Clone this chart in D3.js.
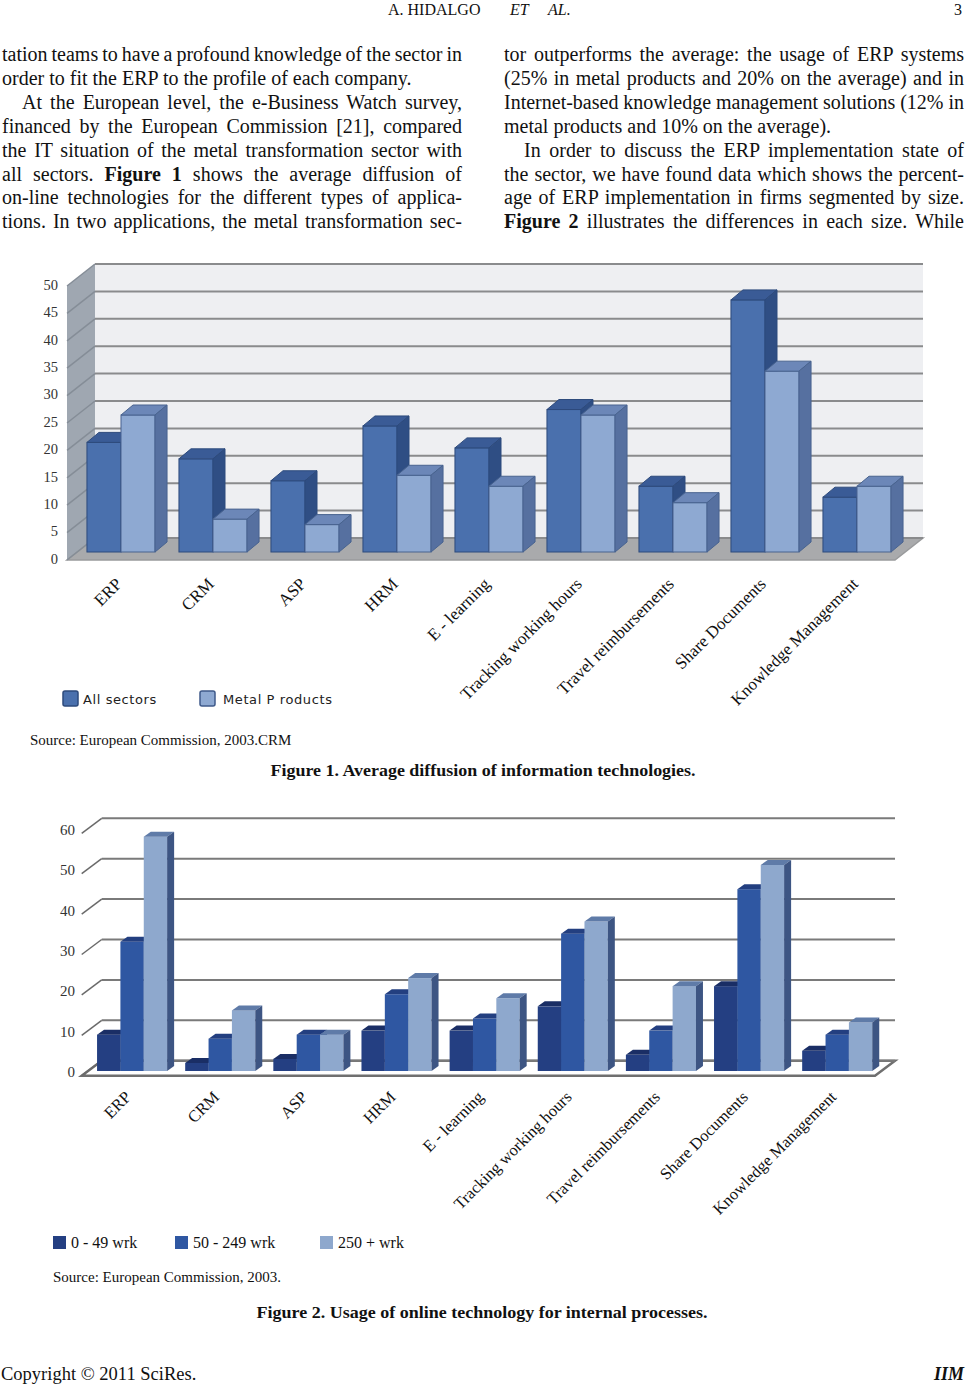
<!DOCTYPE html>
<html lang="en">
<head>
  <meta charset="UTF-8">
  <title>Average diffusion of information technologies</title>
  <script src="https://d3js.org/d3.v7.min.js"></script>
  <style>
    body { margin: 0; background: #fff; }
    svg { display: block; }
    .serif { font-family: "Liberation Serif", "Times New Roman", serif; fill: #111; }
  </style>
</head>
<body>
  <div id="page"></div>
  <script>
    // page text
    const headerAuthor = "A. HIDALGO";
    const pageNumber = "3";
    const leftLines = [
      "tation teams to have a profound knowledge of the sector in",
      "order to fit the ERP to the profile of each company.",
      "At the European level, the e-Business Watch survey,",
      "financed by the European Commission [21], compared",
      "the IT situation of the metal transformation sector with",
      "all sectors. **Figure 1** shows the average diffusion of",
      "on-line technologies for the different types of applica-",
      "tions. In two applications, the metal transformation sec-"
    ];
    const rightLines = [
      "tor outperforms the average: the usage of ERP systems",
      "(25% in metal products and 20% on the average) and in",
      "Internet-based knowledge management solutions (12% in",
      "metal products and 10% on the average).",
      "In order to discuss the ERP implementation state of",
      "the sector, we have found data which shows the percent-",
      "age of ERP implementation in firms segmented by size.",
      "**Figure 2** illustrates the differences in each size. While"
    ];
    const leftIndent = [false, false, true, false, false, false, false, false];
    const leftJustify = [true, false, true, true, true, true, true, true];
    const rightIndent = [false, false, false, false, true, false, false, false];
    const rightJustify = [true, true, true, false, true, true, true, true];

    // chart data
    const categories = ["ERP", "CRM", "ASP", "HRM", "E - learning", "Tracking working hours",
      "Travel reimbursements", "Share Documents", "Knowledge Management"];

    const fig1Series = ["All sectors", "Metal P roducts"];
    const fig1AllSectors = [20, 17, 13, 23, 19, 26, 12, 46, 10];
    const fig1MetalProducts = [25, 6, 5, 14, 12, 25, 9, 33, 12];
    const fig1Ticks = [0, 5, 10, 15, 20, 25, 30, 35, 40, 45, 50];

    const fig2Series = ["0 - 49 wrk", "50 - 249 wrk", "250 + wrk"];
    const fig2Small = [9, 2, 3, 10, 10, 16, 4, 21, 5];
    const fig2Medium = [32, 8, 9, 19, 13, 34, 10, 45, 9];
    const fig2Large = [58, 15, 9, 23, 18, 37, 21, 51, 12];
    const fig2Ticks = [0, 10, 20, 30, 40, 50, 60];

    const svg = d3.select("#page").append("svg").attr("width", 967).attr("height", 1386);

    // ---- header ----
    const head = svg.append("text").attr("class", "serif").attr("y", 15).style("font-size", "16px");
    head.append("tspan").attr("x", 388).text(headerAuthor);
    head.append("tspan").attr("x", 510).style("font-style", "italic").text("ET");
    head.append("tspan").attr("x", 548).style("font-style", "italic").text("AL.");
    svg.append("text").attr("class", "serif").attr("x", 962).attr("y", 15)
      .attr("text-anchor", "end").style("font-size", "16px").text(pageNumber);

    // ---- two columns of body text, justified with word-spacing ----
    function column(lines, indent, justify, x0, x1) {
      lines.forEach((line, i) => {
        const x = x0 + (indent[i] ? 20 : 0);
        const t = svg.append("text").attr("class", "serif")
          .attr("x", x).attr("y", 61 + i * 23.9)
          .style("font-size", "20px");
        line.split("**").forEach((part, k) => {
          if (!part) return;
          t.append("tspan").style("font-weight", k % 2 ? "bold" : "normal").text(part);
        });
        if (justify[i]) {
          const natural = t.node().getComputedTextLength();
          const spaces = (line.match(/ /g) || []).length;
          if (spaces) t.attr("word-spacing", (x1 - x - natural) / spaces);
        }
      });
    }
    column(leftLines, leftIndent, leftJustify, 2, 462);
    column(rightLines, rightIndent, rightJustify, 504, 964);

    // ---- generic 3D clustered column chart ----
    function chart3d(o) {
      const g = svg.append("g");
      const [fdx, fdy] = o.front;
      const yBack = d3.scaleLinear().domain([0, o.max]).range([o.backBottom, o.backTop]);
      const yBar = d3.scaleLinear().domain([0, o.max])
        .range([o.barBase, o.barBase - (o.backBottom - o.backTop)]);
      const x = d3.scaleBand().domain(categories)
        .range([o.backLeft + o.barShift, o.backRight + o.barShift])
        .paddingInner(o.padIn).paddingOuter(o.padOut);
      const xs = d3.scaleBand().domain(d3.range(o.series.length)).range([0, x.bandwidth()]);

      if (o.wallFill) {
        g.append("rect").attr("x", o.backLeft).attr("y", o.backTop)
          .attr("width", o.backRight - o.backLeft).attr("height", o.backBottom - o.backTop)
          .attr("fill", o.wallFill);
        g.append("path").attr("fill", o.sideFill)
          .attr("d", d3.line()([[o.backLeft + fdx, o.backTop + fdy], [o.backLeft, o.backTop],
            [o.backLeft, o.backBottom], [o.backLeft + fdx, o.backBottom + fdy]]) + "Z");
      }
      // floor
      g.append("path").attr("fill", o.floorFill).attr("stroke", o.floorStroke)
        .attr("stroke-width", o.floorStrokeW)
        .attr("d", d3.line()([[o.backLeft, o.backBottom], [o.backRight, o.backBottom],
          [o.backRight + fdx, o.backBottom + fdy], [o.backLeft + fdx, o.backBottom + fdy]]) + "Z");

      // gridlines on back wall and side wall
      g.selectAll(".grid").data(o.ticks).join("line")
        .attr("x1", o.backLeft).attr("x2", o.backRight)
        .attr("y1", d => yBack(d)).attr("y2", d => yBack(d))
        .attr("stroke", o.gridColor).attr("stroke-width", 2);
      g.selectAll(".diag").data(o.ticks).join("line")
        .attr("x1", o.backLeft + fdx).attr("y1", d => yBack(d) + fdy)
        .attr("x2", o.backLeft).attr("y2", d => yBack(d))
        .attr("stroke", o.diagColor).attr("stroke-width", 1.5);
      g.selectAll(".ylab").data(o.ticks).join("text")
        .attr("class", "serif")
        .attr("x", o.labelX).attr("y", d => yBack(d) + o.labelDy)
        .attr("text-anchor", "end").attr("dominant-baseline", "middle")
        .style("font-size", o.tickSize).style("fill", "#333")
        .text(d => d);

      // bars, drawn left to right so later faces overlap earlier sides
      const [bdx, bdy] = o.barDepth;
      categories.forEach((c, i) => {
        o.values.forEach((vals, j) => {
          const x0 = x(c) + xs(j), w = xs.bandwidth();
          const yt = yBar(vals[i]), yb = o.barBase;
          const col = o.colors[j];
          g.append("rect").attr("x", x0).attr("y", yt).attr("width", w).attr("height", yb - yt)
            .attr("fill", col.front).attr("stroke", col.line).attr("stroke-width", o.barStrokeW);
          g.append("path").attr("fill", col.top).attr("stroke", col.line).attr("stroke-width", o.barStrokeW)
            .attr("d", d3.line()([[x0, yt], [x0 + bdx, yt + bdy], [x0 + w + bdx, yt + bdy], [x0 + w, yt]]) + "Z");
          g.append("path").attr("fill", col.side).attr("stroke", col.line).attr("stroke-width", o.barStrokeW)
            .attr("d", d3.line()([[x0 + w, yt], [x0 + w + bdx, yt + bdy], [x0 + w + bdx, yb + bdy], [x0 + w, yb]]) + "Z");
        });
      });

      // rotated category labels
      g.selectAll(".xlab").data(categories).join("text")
        .attr("class", "serif")
        .attr("transform", d => `translate(${x(d) + x.bandwidth() / 2 + o.catDx},${o.catY}) rotate(-45)`)
        .attr("text-anchor", "end")
        .style("font-size", o.catSize)
        .text(d => d);
    }

    chart3d({
      max: 50, ticks: fig1Ticks, series: fig1Series,
      values: [fig1AllSectors, fig1MetalProducts],
      backLeft: 95, backRight: 923, backTop: 264, backBottom: 538,
      front: [-28, 22], barShift: -20, barBase: 552, barDepth: [12, -10],
      padIn: 0.26, padOut: 0.13,
      wallFill: "#eeeff2", sideFill: "#9fa7b1",
      floorFill: "#a9aaac", floorStroke: "#999a9c", floorStrokeW: 1.5,
      gridColor: "#8a8b8d", diagColor: "#858d97",
      labelX: 58, labelDy: 22.5, tickSize: "14.5px",
      catDx: 2, catY: 585, catSize: "17px", barStrokeW: 1,
      colors: [
        { front: "#4a70ad", top: "#3a5b96", side: "#2f4e84", line: "#2d4a7c" },
        { front: "#8ea9d2", top: "#6c87b8", side: "#5670a0", line: "#48638f" }
      ]
    });

    chart3d({
      max: 60, ticks: fig2Ticks, series: fig2Series,
      values: [fig2Small, fig2Medium, fig2Large],
      backLeft: 101.7, backRight: 895, backTop: 818.3, backBottom: 1060.7,
      front: [-20, 15], barShift: -13.7, barBase: 1071, barDepth: [7, -5],
      padIn: 0.205, padOut: 0.1027,
      wallFill: null, sideFill: null,
      floorFill: "#ffffff", floorStroke: "#6f6f6f", floorStrokeW: 2.5,
      gridColor: "#7a7a7a", diagColor: "#6a6a6a",
      labelX: 75, labelDy: 13, tickSize: "15px",
      catDx: 0, catY: 1098, catSize: "16.5px", barStrokeW: 0,
      colors: [
        { front: "#243f82", top: "#1a2e65", side: "#1b3068", line: "none" },
        { front: "#2f57a2", top: "#233f80", side: "#24437f", line: "none" },
        { front: "#8ea8cd", top: "#5f7ba8", side: "#3d5583", line: "none" }
      ]
    });

    // ---- legends ----
    const leg1Colors = [{ fill: "#4a70ad", line: "#2d4a7c" }, { fill: "#8ea9d2", line: "#3f5a8a" }];
    const leg1X = [63, 200];
    fig1Series.forEach((s, i) => {
      svg.append("rect").attr("x", leg1X[i]).attr("y", 691).attr("width", 15).attr("height", 15)
        .attr("rx", 2).attr("fill", leg1Colors[i].fill)
        .attr("stroke", leg1Colors[i].line).attr("stroke-width", 1.5);
      svg.append("text").attr("x", leg1X[i] + (i ? 23 : 20)).attr("y", 704)
        .style("font-family", "'DejaVu Sans', sans-serif").style("font-size", "13px")
        .style("letter-spacing", "0.6px").style("fill", "#222")
        .text(s);
    });

    const leg2Colors = ["#243f82", "#2f57a2", "#8ea8cd"];
    const leg2X = [53, 175, 320];
    fig2Series.forEach((s, i) => {
      svg.append("rect").attr("x", leg2X[i]).attr("y", 1236).attr("width", 13).attr("height", 13)
        .attr("fill", leg2Colors[i]);
      svg.append("text").attr("class", "serif").attr("x", leg2X[i] + 18).attr("y", 1248)
        .style("font-size", "16px").text(s);
    });

    // ---- sources and captions ----
    svg.append("text").attr("class", "serif").attr("x", 30).attr("y", 745)
      .style("font-size", "15px").text("Source: European Commission, 2003.CRM");
    svg.append("text").attr("class", "serif").attr("x", 483).attr("y", 776)
      .attr("text-anchor", "middle").style("font-size", "16px").style("font-weight", "bold")
      .attr("textLength", 425).attr("lengthAdjust", "spacingAndGlyphs")
      .text("Figure 1. Average diffusion of information technologies.");

    svg.append("text").attr("class", "serif").attr("x", 53).attr("y", 1282)
      .style("font-size", "15px").text("Source: European Commission, 2003.");
    svg.append("text").attr("class", "serif").attr("x", 482).attr("y", 1318)
      .attr("text-anchor", "middle").style("font-size", "16.5px").style("font-weight", "bold")
      .attr("textLength", 451).attr("lengthAdjust", "spacingAndGlyphs")
      .text("Figure 2. Usage of online technology for internal processes.");

    // ---- footer ----
    svg.append("text").attr("class", "serif").attr("x", 1).attr("y", 1380)
      .style("font-size", "18.5px").text("Copyright © 2011 SciRes.");
    svg.append("text").attr("class", "serif").attr("x", 964).attr("y", 1380)
      .attr("text-anchor", "end").style("font-size", "18px")
      .style("font-weight", "bold").style("font-style", "italic").text("IIM");
  </script>
</body>
</html>
